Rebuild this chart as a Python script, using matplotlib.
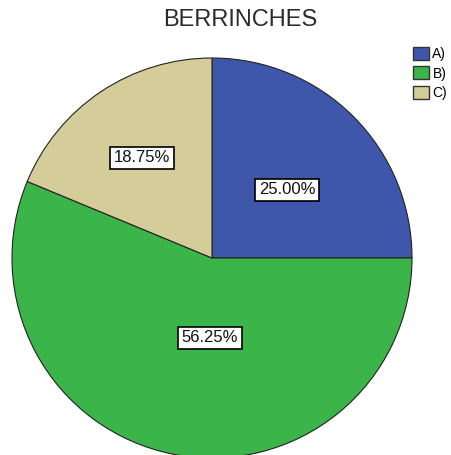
import matplotlib
matplotlib.use("Agg")
import matplotlib.pyplot as plt
from matplotlib.patches import Patch

# data
categories = ["A)", "B)", "C)"]
percents = [25.00, 56.25, 18.75]
colors = ["#3f57ab", "#3bb54a", "#d5cd99"]
# label spots inside the pie (axes units, radius = 1)
label_pos = [(0.375, 0.34), (-0.01, -0.40), (-0.35, 0.50)]

plt.rcParams['font.family'] = ['Liberation Sans', 'DejaVu Sans']

fig = plt.figure(figsize=(4.51, 4.55), dpi=100)
# place the pie by hand: center (212, 258) px, radius 200 px
ax = fig.add_axes([12 / 451, -3 / 455, 400 / 451, 400 / 455])

wedges, _ = ax.pie(percents, colors=colors, startangle=90, counterclock=False,
                   radius=1.0, wedgeprops=dict(edgecolor="#222222", linewidth=0.8))
ax.set_xlim(-1, 1)
ax.set_ylim(-1, 1)
ax.set_aspect("equal")
ax.axis("off")

for p, (x, y) in zip(percents, label_pos):
    ax.text(x, y, "{:.2f}%".format(p), ha="center", va="center", fontsize=12,
            color="#111111",
            bbox=dict(boxstyle="square,pad=0.22", facecolor="white",
                      edgecolor="black", linewidth=1.2))

fig.text(240 / 451, 1 - 20 / 455, "BERRINCHES", ha="center", va="center",
         fontsize=17, color="#2b2b2b")

handles = [Patch(facecolor=c, edgecolor="#333333", linewidth=1.0) for c in colors]
fig.legend(handles, categories, loc="upper left", bbox_to_anchor=(413 / 451, 1 - 47 / 455),
           frameon=False, fontsize=10, handlelength=1.15, handleheight=1.08,
           handletextpad=0.25, labelspacing=0.36, borderaxespad=0, borderpad=0)

fig.savefig("out.png", dpi=100)
